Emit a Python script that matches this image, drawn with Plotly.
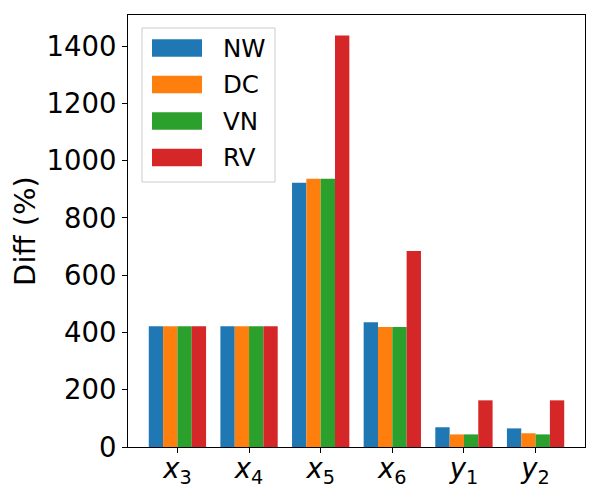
import plotly.graph_objects as go

categories = ["x3", "x4", "x5", "x6", "y1", "y2"]
tick_labels = ["<i>x</i><sub>3</sub>", "<i>x</i><sub>4</sub>", "<i>x</i><sub>5</sub>",
               "<i>x</i><sub>6</sub>", "<i>y</i><sub>1</sub>", "<i>y</i><sub>2</sub>"]
series_names = ["NW", "DC", "VN", "RV"]
nw = [422, 422, 923, 436, 69, 65]
dc = [422, 422, 937, 419, 44, 48]
vn = [422, 422, 937, 419, 44, 44]
rv = [422, 422, 1437, 685, 163, 163]
colors = ["#1f77b4", "#ff7f0e", "#2ca02c", "#d62728"]

fig = go.Figure()
for name, vals, c in zip(series_names, [nw, dc, vn, rv], colors):
    fig.add_trace(go.Bar(x=categories, y=vals, name=name, marker_color=c,
                         marker_line_width=0, showlegend=False))

# legend drawn as a framed box (matplotlib style)
shapes = [dict(type="rect", xref="paper", yref="paper",
               x0=0.0306, x1=0.3217, y0=0.6134, y1=0.9699,
               line=dict(color="#cccccc", width=1), fillcolor="rgba(255,255,255,0.8)",
               layer="above")]
annotations = []
centers = [0.9236, 0.8391, 0.7546, 0.6701]
for name, c, yc in zip(series_names, colors, centers):
    shapes.append(dict(type="rect", xref="paper", yref="paper",
                       x0=0.0525, x1=0.1619, y0=yc - 0.0203, y1=yc + 0.0203,
                       line=dict(width=0), fillcolor=c, layer="above"))
    annotations.append(dict(text=name, xref="paper", yref="paper", x=0.203, y=yc,
                            xanchor="left", yanchor="middle", showarrow=False,
                            font=dict(size=24.5, color="black")))

font = "DejaVu Sans, sans-serif"
# page body adds an 8px offset, so the figure is 592x492 with shifted margins
fig.update_layout(
    width=592, height=492,
    margin=dict(l=120, r=15, t=7, b=53),
    plot_bgcolor="white", paper_bgcolor="white",
    barmode="group", bargap=0.2, bargroupgap=0,
    font=dict(family=font, size=27.5, color="black"),
    showlegend=False,
    shapes=shapes, annotations=annotations,
    xaxis=dict(type="category", range=[-0.69, 5.69], tickvals=categories,
               ticktext=tick_labels, showline=True, linecolor="black",
               linewidth=1, mirror=True, ticks="outside", ticklen=5,
               tickcolor="black", showgrid=False, zeroline=False, automargin=False,
               ticklabelstandoff=-8),
    yaxis=dict(range=[0, 1509], dtick=200, showline=True, linecolor="black",
               linewidth=1, mirror=True, ticks="outside", ticklen=5,
               tickcolor="black", showgrid=False, zeroline=False, automargin=False,
               title=dict(text="Diff (%)", standoff=5, font=dict(size=29))),
)
fig.write_html("out.html")
